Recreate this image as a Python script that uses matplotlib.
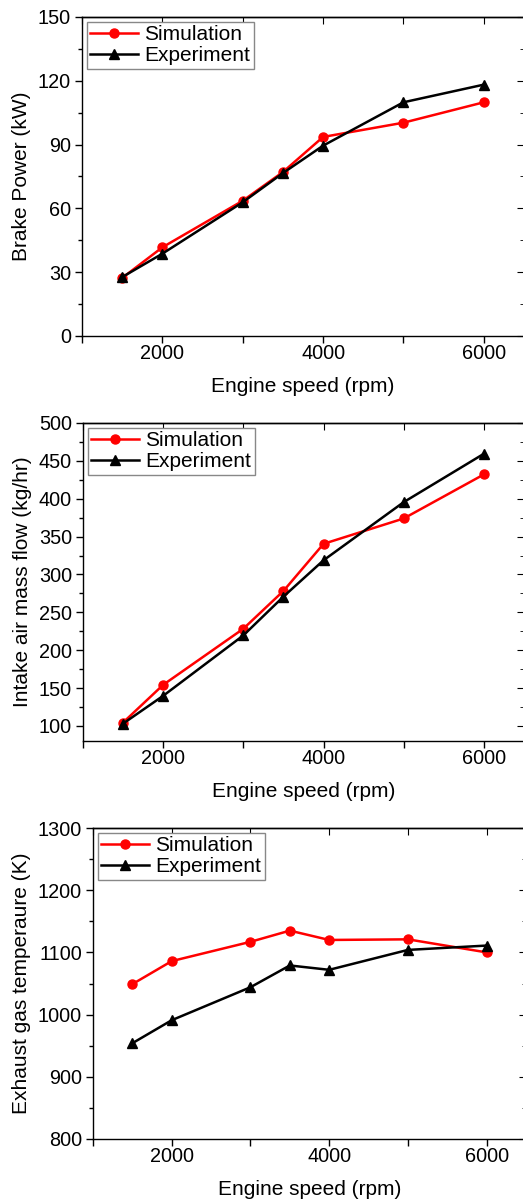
import matplotlib
matplotlib.use('Agg')
import matplotlib.pyplot as plt
from matplotlib.ticker import MultipleLocator

plt.rcParams.update({
    'font.family': ['Liberation Sans', 'DejaVu Sans'],
    'font.size': 14.3,
    'axes.linewidth': 1.0,
})

speed = [1500, 2000, 3000, 3500, 4000, 5000, 6000]

power_sim = [27.3, 41.7, 63.6, 77.1, 93.6, 100.3, 109.9]
power_exp = [27.7, 38.7, 62.9, 76.6, 89.5, 109.9, 118.2]

air_sim = [104.4, 154.2, 228.3, 278.2, 340.4, 373.9, 432.1]
air_exp = [103.0, 139.7, 219.5, 270.7, 318.7, 395.5, 459.4]

egt_sim = [1049, 1086, 1117, 1135, 1120, 1121, 1100]
egt_exp = [954, 991, 1044, 1079, 1072, 1104, 1111]

W, H = 523, 1203
fig = plt.figure(figsize=(W / 100, H / 100), dpi=100)


def make_axes(left, right, top, bottom):
    return fig.add_axes([left / W, 1 - bottom / H, (right - left) / W, (bottom - top) / H])


panels = [
    dict(box=(82, 524, 17, 336), sim=power_sim, exp=power_exp, ylim=(0, 150),
         major=30, minor=15, ylabel='Brake Power (kW)'),
    dict(box=(83, 524, 423, 741), sim=air_sim, exp=air_exp, ylim=(80, 500),
         major=50, minor=25, ylabel='Intake air mass flow (kg/hr)'),
    dict(box=(93, 526, 828, 1139), sim=egt_sim, exp=egt_exp, ylim=(800, 1300),
         major=100, minor=50, ylabel='Exhaust gas temperaure (K)'),
]

for p in panels:
    ax = make_axes(*p['box'])
    ax.plot(speed, p['sim'], color='#ff0000', marker='o', markersize=6.5,
            linewidth=1.8, label='Simulation')
    ax.plot(speed, p['exp'], color='black', marker='^', markersize=6.5,
            linewidth=1.8, label='Experiment')
    ax.set_xlim(1000, 6500)
    ax.set_ylim(*p['ylim'])
    ax.xaxis.set_major_locator(MultipleLocator(2000))
    ax.xaxis.set_minor_locator(MultipleLocator(1000))
    ax.yaxis.set_major_locator(MultipleLocator(p['major']))
    ax.yaxis.set_minor_locator(MultipleLocator(p['minor']))
    ax.tick_params(which='major', direction='out', length=5, width=1, pad=3)
    ax.tick_params(which='minor', direction='out', length=3, width=1)
    ax.tick_params(axis='x', which='minor', length=5)
    ax.tick_params(axis='x', which='major', pad=1)

    top = ax.secondary_xaxis('top')
    top.xaxis.set_major_locator(MultipleLocator(1000))
    top.tick_params(direction='in', length=5, labeltop=False)
    right = ax.secondary_yaxis('right')
    right.yaxis.set_major_locator(MultipleLocator(p['major']))
    right.yaxis.set_minor_locator(MultipleLocator(p['minor']))
    right.tick_params(which='major', direction='in', length=5, labelright=False)
    right.tick_params(which='minor', direction='in', length=3)

    ax.set_xlabel('Engine speed (rpm)', fontsize=15, labelpad=10)
    ax.set_ylabel(p['ylabel'], fontsize=15, labelpad=5)
    leg = ax.legend(loc='upper left', fontsize=15, fancybox=False, framealpha=1,
                    edgecolor='#888888', borderpad=0.15, labelspacing=0.1,
                    handlelength=2.3, handletextpad=0.3, borderaxespad=0.25)
    leg.get_frame().set_linewidth(1.0)

fig.savefig('out.png', dpi=100)
